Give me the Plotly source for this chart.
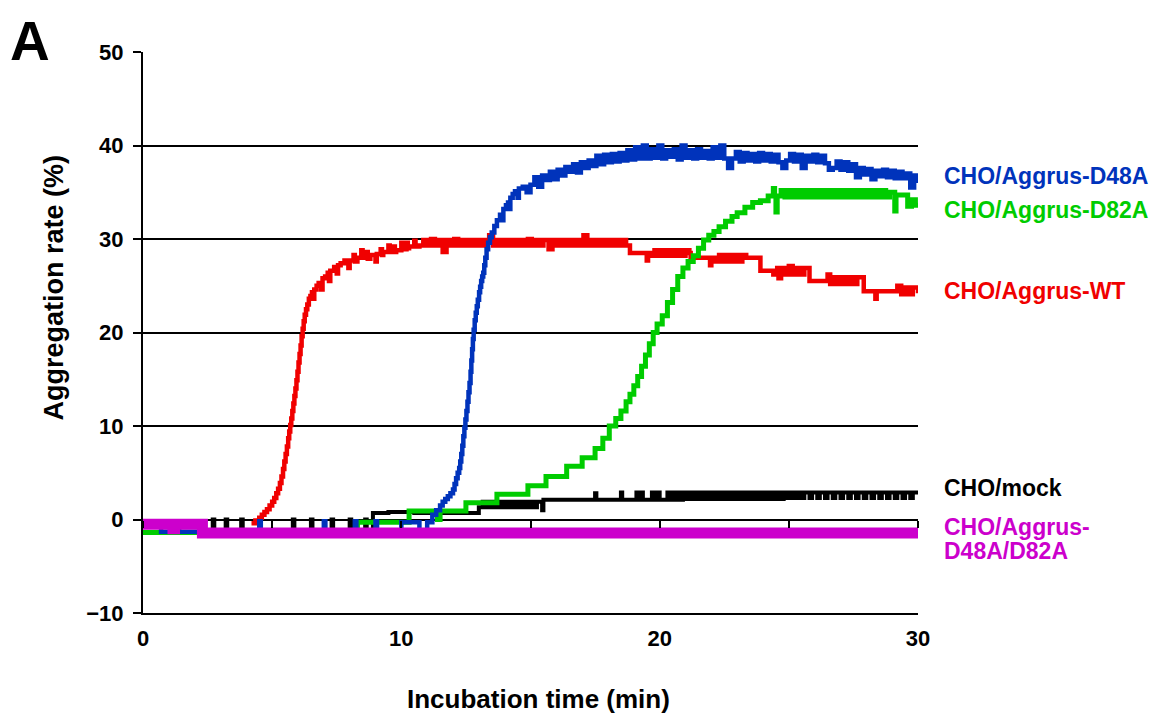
import plotly.graph_objects as go

# ---------------- data: (time in min, aggregation %) ----------------
wt = [(4.20, -0.4), (4.35, -0.1), (4.50, 0.2), (4.60, 0.5), (4.70, 0.8), (4.80, 1.1), (4.90, 1.5),
      (5.00, 1.9), (5.08, 2.3), (5.16, 2.8), (5.23, 3.3), (5.30, 3.9), (5.36, 4.6), (5.42, 5.4),
      (5.47, 6.2), (5.52, 7.0), (5.57, 7.8), (5.62, 8.7), (5.66, 9.4), (5.70, 10.1), (5.74, 10.8),
      (5.78, 11.6), (5.82, 12.4), (5.86, 13.2), (5.90, 14.0), (5.94, 14.9), (5.98, 15.8), (6.02, 16.8),
      (6.06, 17.7), (6.10, 18.6), (6.14, 19.6), (6.18, 20.4), (6.22, 21.2), (6.26, 21.9), (6.31, 22.5),
      (6.36, 23.0), (6.42, 23.6), (6.48, 23.9), (6.54, 24.3), (6.60, 23.6), (6.63, 24.6), (6.72, 25.0),
      (6.80, 25.3), (6.90, 24.6), (6.95, 25.8), (7.05, 26.0), (7.15, 26.4), (7.20, 25.5), (7.25, 26.6),
      (7.40, 27.0), (7.50, 26.3), (7.55, 27.2), (7.65, 27.4),
      (7.80, 27.7), (7.95, 26.9), (8.00, 27.7), (8.15, 28.3), (8.20, 27.6), (8.30, 28.0), (8.45, 28.8),
      (8.50, 28.0), (8.65, 28.6), (8.70, 27.9), (8.80, 28.3), (9.00, 27.6), (9.05, 28.4), (9.20, 28.9),
      (9.25, 28.3), (9.30, 28.6), (9.50, 29.3), (9.55, 28.6), (9.70, 29.2), (9.75, 28.6), (9.80, 28.8),
      (10.00, 29.6), (10.05, 28.9), (10.20, 29.6), (10.25, 29.0), (10.30, 29.2), (10.50, 29.8),
      (10.55, 29.2), (10.70, 29.3), (10.85, 29.9), (11.00, 29.3), (11.15, 30.0), (11.30, 29.3),
      (11.45, 29.9), (11.60, 28.6), (11.75, 29.9), (11.90, 29.3), (12.05, 30.0), (12.20, 29.3),
      (12.35, 29.9), (12.50, 29.3), (12.65, 29.9), (12.80, 29.3), (12.95, 29.9), (13.10, 29.3),
      (13.25, 29.9), (13.40, 30.4), (13.55, 29.3), (13.70, 29.9), (13.85, 29.3), (14.00, 29.9),
      (14.15, 29.3), (14.30, 29.9), (14.45, 29.3), (14.60, 29.9), (14.75, 29.3), (14.90, 30.0),
      (15.05, 29.3), (15.20, 29.9), (15.35, 29.3), (15.50, 29.9), (15.70, 28.9), (15.85, 29.9),
      (16.00, 29.3), (16.15, 29.9), (16.30, 29.3), (16.45, 29.9), (16.60, 29.3), (16.75, 29.9),
      (16.90, 29.3), (17.05, 30.4), (17.20, 29.3), (17.35, 29.9), (17.50, 29.3), (17.65, 29.9),
      (17.80, 29.3), (17.95, 29.9), (18.10, 29.3), (18.25, 29.9), (18.40, 29.3), (18.55, 29.9),
      (18.70, 29.3), (18.85, 28.5), (19.45, 28.5), (19.50, 27.7), (19.55, 28.5),
      (19.65, 28.2), (19.80, 28.8), (19.95, 28.2), (20.10, 28.8), (20.25, 28.2), (20.40, 28.8),
      (20.55, 28.2), (20.70, 28.8), (20.85, 28.2), (21.00, 28.8), (21.15, 28.5), (21.20, 28.0),
      (21.90, 28.0), (21.95, 27.2), (22.00, 28.0), (22.15, 27.6), (22.30, 28.3), (22.45, 27.6),
      (22.60, 28.3), (22.75, 27.6), (22.90, 28.3), (23.05, 27.6), (23.20, 28.3), (23.35, 28.0),
      (23.90, 26.6), (24.25, 26.6), (24.40, 26.2), (24.55, 26.9), (24.60, 25.8),
      (24.70, 26.9), (24.85, 26.2), (25.00, 27.1), (25.15, 26.2), (25.30, 26.9), (25.45, 26.2),
      (25.60, 26.9), (25.80, 25.5), (26.40, 25.5), (26.50, 26.2), (26.60, 25.2),
      (26.75, 25.9), (26.90, 25.2), (27.05, 25.9), (27.20, 25.2), (27.35, 25.9), (27.50, 25.2),
      (27.65, 25.9), (27.90, 24.4), (28.30, 24.4), (28.35, 23.6), (28.40, 24.4),
      (29.10, 24.4), (29.20, 25.0), (29.35, 24.1), (29.50, 24.8), (29.65, 24.1), (29.80, 24.8),
      (30.00, 24.2)]

d48a = [(0.00, -0.3), (0.70, -1.3), (1.10, -0.3), (1.40, -1.3), (4.50, -0.2), (4.56, -1.3),
        (7.00, -0.2), (7.06, -1.3), (8.20, -0.2), (8.26, -1.3), (9.00, -0.2), (9.06, -1.3),
        (10.00, -0.3), (10.70, -1.3), (11.00, -0.3), (11.20, 0.5), (11.35, 1.0), (11.50, 1.5),
        (11.60, 1.9), (11.70, 2.2), (11.80, 2.5), (11.90, 2.8), (12.00, 3.2), (12.06, 3.8),
        (12.12, 4.4), (12.18, 5.0), (12.24, 5.5), (12.28, 6.2), (12.32, 7.0), (12.36, 7.9),
        (12.40, 8.9), (12.44, 9.8), (12.48, 10.7), (12.52, 11.6), (12.56, 12.6), (12.60, 13.6),
        (12.64, 14.6), (12.68, 15.8), (12.71, 17.0), (12.74, 18.2), (12.77, 19.3), (12.80, 20.3),
        (12.84, 21.3), (12.88, 22.1), (12.92, 22.8), (12.96, 23.5), (13.01, 24.3), (13.05, 24.9),
        (13.09, 25.5), (13.13, 26.0), (13.17, 26.4), (13.21, 27.2), (13.25, 28.0), (13.30, 28.9),
        (13.36, 29.6), (13.43, 30.2), (13.50, 30.7), (13.60, 31.4), (13.70, 32.0), (13.82, 32.6),
        (13.90, 32.0), (13.95, 33.2), (14.05, 33.6), (14.13, 33.9), (14.20, 33.2), (14.22, 34.4),
        (14.31, 34.8), (14.40, 35.1), (14.50, 34.4), (14.55, 35.4), (14.70, 35.6), (14.85, 35.0),
        (15.00, 35.8), (15.15, 36.6), (15.30, 35.6), (15.45, 36.8), (15.60, 36.3), (15.75, 37.2),
        (15.90, 36.4), (16.05, 37.4), (16.20, 36.8), (16.35, 37.7), (16.50, 37.2), (16.65, 38.0),
        (16.80, 37.1), (16.95, 38.2), (17.10, 37.6), (17.25, 38.4), (17.40, 37.8), (17.55, 38.9),
        (17.70, 38.0), (17.85, 39.0), (18.00, 38.2), (18.15, 39.1), (18.30, 38.3), (18.45, 39.2),
        (18.60, 38.4), (18.75, 39.5), (18.90, 38.5), (19.05, 39.8), (19.20, 38.6), (19.35, 40.0),
        (19.50, 38.6), (19.65, 39.6), (19.80, 38.7), (19.95, 40.0), (20.10, 38.6), (20.25, 39.5),
        (20.40, 38.8), (20.55, 39.6), (20.70, 38.5), (20.85, 40.0), (21.00, 38.7), (21.15, 39.5),
        (21.30, 38.6), (21.45, 39.6), (21.60, 38.7), (21.75, 39.4), (21.90, 38.6), (22.05, 39.8),
        (22.20, 38.7), (22.35, 40.0), (22.50, 38.6), (22.65, 37.6), (22.80, 38.6), (22.95, 39.3),
        (23.10, 38.3), (23.25, 39.2), (23.40, 38.4), (23.55, 39.1), (23.70, 38.3), (23.85, 39.2),
        (24.00, 38.4), (24.15, 39.1), (24.30, 38.3), (24.45, 39.0), (24.60, 38.2), (24.75, 37.6),
        (24.90, 38.4), (25.05, 39.1), (25.20, 38.3), (25.35, 39.0), (25.50, 37.6), (25.65, 38.9),
        (25.80, 38.3), (25.95, 39.0), (26.10, 38.2), (26.25, 38.9), (26.40, 38.1), (26.55, 37.4),
        (26.70, 37.6), (26.85, 38.3), (27.00, 37.4), (27.15, 38.2), (27.30, 37.3), (27.45, 38.0),
        (27.60, 36.6), (27.75, 37.6), (27.90, 36.9), (28.05, 37.5), (28.20, 36.4), (28.35, 37.3),
        (28.50, 36.7), (28.65, 37.4), (28.80, 36.6), (28.95, 37.3), (29.10, 36.5), (29.25, 37.2),
        (29.40, 36.5), (29.55, 37.0), (29.70, 35.5), (29.85, 36.8), (30.00, 36.0)]

d82a = [(0.00, -1.4), (3.00, -1.6), (3.90, -1.2), (5.00, -1.4), (8.30, -0.3), (10.30, 0.9), (11.40, 0.0),
        (11.50, 0.9), (12.50, 1.8), (13.70, 2.7), (14.90, 3.6), (15.60, 4.6), (16.40, 5.7), (17.00, 6.6),
        (17.50, 7.6), (17.80, 8.7), (18.05, 10.0), (18.30, 10.8), (18.50, 11.6), (18.70, 12.6),
        (18.85, 13.4), (19.00, 14.3), (19.15, 15.3), (19.30, 16.4), (19.45, 17.6), (19.60, 18.8),
        (19.75, 20.0), (19.90, 20.9), (20.10, 21.8), (20.30, 23.2), (20.50, 24.6), (20.70, 26.0),
        (20.90, 26.9), (21.10, 27.6), (21.30, 28.2), (21.50, 29.0), (21.70, 29.9), (21.90, 30.4),
        (22.10, 30.8), (22.30, 31.3), (22.55, 31.9), (22.80, 32.4), (23.00, 32.8), (23.30, 33.4),
        (23.60, 33.9), (23.90, 34.1), (24.20, 34.6), (24.40, 35.4), (24.45, 34.6), (24.50, 32.9),
        (24.55, 34.6), (24.70, 35.2), (24.85, 34.5), (25.00, 35.2), (25.15, 34.5), (25.30, 35.2),
        (25.45, 34.5), (25.60, 35.2), (25.75, 34.5), (25.90, 35.2), (26.05, 34.5), (26.20, 35.2),
        (26.35, 34.5), (26.50, 35.2), (26.65, 34.5), (26.80, 35.2), (26.95, 34.5), (27.10, 35.2),
        (27.25, 34.5), (27.40, 35.2), (27.55, 34.5), (27.70, 35.2), (27.85, 34.5), (28.00, 35.2),
        (28.15, 34.5), (28.30, 35.2), (28.45, 34.5), (28.60, 35.2), (28.75, 34.5), (28.90, 35.0),
        (29.10, 33.0), (29.15, 34.7), (29.60, 33.5), (29.75, 34.2), (29.90, 33.6), (30.00, 33.8)]

mock = [(2.50, -1.3), (2.70, 0.0), (2.76, -1.3), (3.20, 0.0), (3.26, -1.3), (3.80, 0.0), (3.86, -1.3),
        (5.80, 0.0), (5.86, -1.3), (6.50, 0.0), (6.56, -1.3), (7.30, 0.0), (7.36, -1.3), (8.00, 0.0),
        (8.06, -1.3), (8.60, 0.0), (8.66, -1.3),
        (8.90, 0.7), (9.50, 0.8), (10.50, 0.7), (13.00, 1.3), (13.15, 1.9), (13.30, 1.3), (13.45, 1.9),
        (13.60, 1.3), (13.75, 1.9), (13.90, 1.3), (14.05, 1.9), (14.20, 1.3), (14.35, 1.9), (14.50, 1.3),
        (14.65, 1.9), (14.80, 1.3), (14.95, 1.9), (15.10, 1.3), (15.25, 1.9), (15.45, 1.0), (15.50, 2.1),
        (17.50, 2.8), (17.55, 2.1), (18.50, 2.9), (18.55, 2.1), (19.10, 2.9), (19.20, 2.1), (19.25, 2.9),
        (19.35, 2.1), (19.70, 2.9), (19.80, 2.1), (19.90, 2.9), (20.00, 2.1), (20.30, 2.9), (20.40, 2.1),
        (20.50, 2.9), (20.60, 2.1), (20.70, 2.9), (20.80, 2.1), (20.90, 2.9), (21.05, 2.2), (21.20, 2.9),
        (21.35, 2.2), (21.50, 2.9), (21.65, 2.2), (21.80, 2.9), (21.95, 2.2), (22.10, 2.9), (22.25, 2.2),
        (22.40, 2.9), (22.55, 2.2), (22.70, 2.9), (22.85, 2.2), (23.00, 2.9), (23.15, 2.2), (23.30, 2.9),
        (23.45, 2.2), (23.60, 2.9), (23.75, 2.2), (23.90, 2.9), (24.05, 2.2), (24.20, 2.9), (24.35, 2.2),
        (24.50, 2.9), (24.65, 2.2), (24.80, 2.9), (24.95, 2.3), (25.10, 2.9), (25.25, 2.3), (25.40, 2.9),
        (25.50, 2.3), (25.60, 2.9), (25.80, 2.3), (25.90, 2.9), (26.10, 2.3), (26.20, 2.9), (26.40, 2.3),
        (26.50, 2.9), (26.70, 2.3), (26.80, 2.9), (27.00, 2.3), (27.10, 2.9), (27.30, 2.3), (27.40, 2.9),
        (27.60, 2.3), (27.70, 2.9), (27.90, 2.3), (28.00, 2.9), (28.20, 2.3), (28.30, 2.9), (28.50, 2.3),
        (28.60, 2.9), (28.80, 2.3), (28.90, 2.9), (29.10, 2.3), (29.20, 2.9), (29.40, 2.3), (29.50, 2.9),
        (29.70, 2.3), (29.80, 2.9), (30.00, 2.9)]

d48a_d82a = [(0.00, -0.5), (1.16, -1.0), (1.22, -0.5), (2.30, -1.45), (30.00, -1.45)]

series_names = ["CHO/mock", "CHO/Aggrus-WT", "CHO/Aggrus-D82A", "CHO/Aggrus-D48A", "CHO/Aggrus-D48A/D82A"]
series_colors = ["#000000", "#f00000", "#00cc00", "#0033bb", "#cc00cc"]
series_widths = [4, 4.5, 5, 4.5, 11]
label_lines = [["CHO/mock"], ["CHO/Aggrus-WT"], ["CHO/Aggrus-D82A"], ["CHO/Aggrus-D48A"],
               ["CHO/Aggrus-", "D48A/D82A"]]
label_y = [[3.4], [24.4], [33.05], [36.7], [-0.75, -3.4]]

x_ticks = [0, 10, 20, 30]
y_ticks = [-10, 0, 10, 20, 30, 40, 50]

# ---------------- figure ----------------
FONT = "Liberation Sans, Arial, sans-serif"
fig = go.Figure()
series = [mock, wt, d82a, d48a, d48a_d82a]
for pts, name, col, wd in zip(series, series_names, series_colors, series_widths):
    fig.add_trace(go.Scatter(x=[p[0] for p in pts], y=[p[1] for p in pts], mode="lines", name=name,
                             line=dict(color=col, width=wd, shape="hv"),
                             showlegend=False, hoverinfo="x+y+name"))

# right-hand labels
for lines, ys, col in zip(label_lines, label_y, series_colors):
    for txt, yy in zip(lines, ys):
        fig.add_annotation(x=1.031, xref="paper", y=yy, yref="y", text=txt, showarrow=False,
                           xanchor="left", yanchor="middle",
                           font=dict(family=FONT, size=23, color=col, weight="bold"))

# panel letter
fig.add_annotation(x=-0.1742, xref="paper", y=1.0784, yref="paper", text="A", showarrow=False,
                   xanchor="left", yanchor="top",
                   font=dict(family=FONT, size=55, color="black", weight="bold"))
# axis titles
fig.add_annotation(x=0.5097, xref="paper", y=-0.1533, yref="paper", text="Incubation time (min)",
                   showarrow=False, xanchor="center", yanchor="middle",
                   font=dict(family=FONT, size=26, color="black", weight="bold"))
fig.add_annotation(x=-0.1142, xref="paper", y=0.581, yref="paper", text="Aggregation rate (%)",
                   showarrow=False, xanchor="center", yanchor="middle", textangle=-90,
                   font=dict(family=FONT, size=27, color="black", weight="bold"))

fig.update_layout(
    width=1155, height=708,
    margin=dict(l=135, r=245, t=44, b=103),
    paper_bgcolor="white", plot_bgcolor="white",
    font=dict(family=FONT, color="black", weight="bold"),
    xaxis=dict(range=[0, 30], tickvals=x_ticks, ticktext=[str(v) for v in x_ticks],
               showgrid=False, zeroline=False, showline=True, linecolor="black", linewidth=2,
               ticks="", ticklabelstandoff=5,
               tickfont=dict(family=FONT, size=22, color="black", weight="bold")),
    xaxis2=dict(range=[0, 30], overlaying="x", anchor="free", position=1/6, side="bottom",
                dtick=5, tick0=0, ticks="outside", ticklen=7, tickwidth=1.5, tickcolor="black",
                showticklabels=False, showgrid=False, zeroline=False, showline=False),
    yaxis=dict(range=[-10, 50], tickvals=y_ticks,
               ticktext=[("\u221210" if v < 0 else str(v)) for v in y_ticks],
               showgrid=True, gridcolor="black", gridwidth=1.5,
               zeroline=True, zerolinecolor="black", zerolinewidth=2,
               showline=True, linecolor="black", linewidth=2,
               ticks="outside", ticklen=8, tickwidth=1.5, tickcolor="black", ticklabelstandoff=5,
               tickfont=dict(family=FONT, size=22, color="black", weight="bold")),
)
# invisible helper trace so the secondary tick axis is rendered
fig.add_trace(go.Scatter(x=[0, 30], y=[None, None], xaxis="x2", mode="lines",
                         showlegend=False, hoverinfo="skip"))
fig.write_html("out.html")
